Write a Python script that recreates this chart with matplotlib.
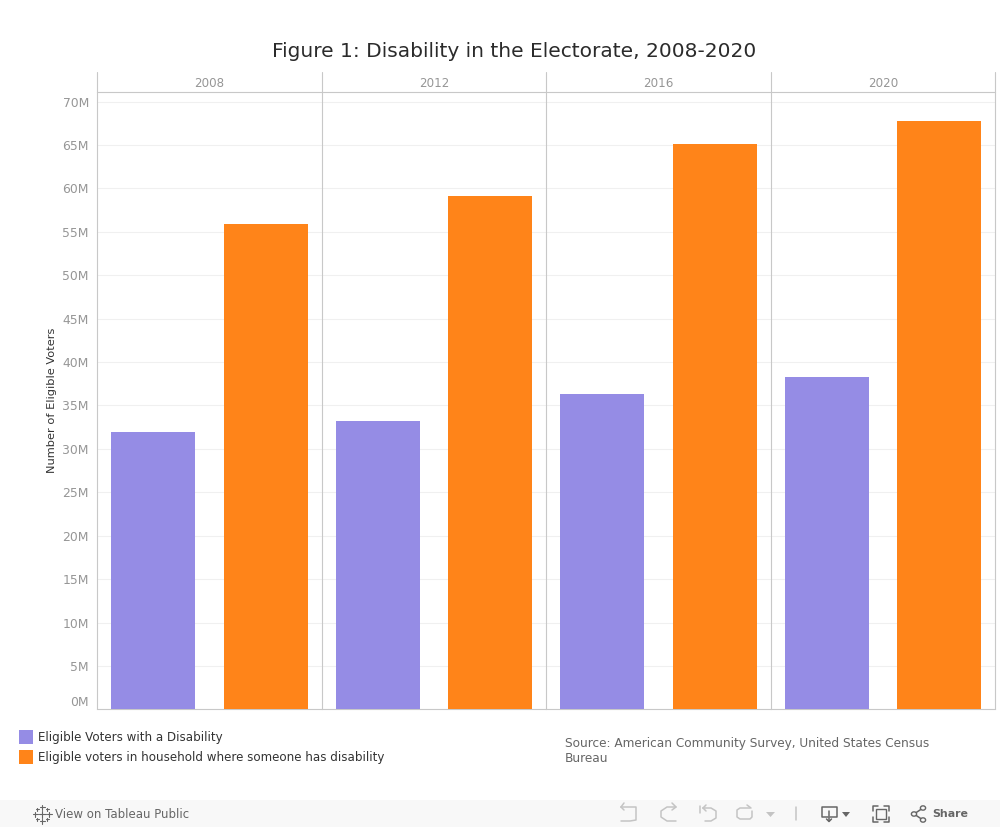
import matplotlib
matplotlib.use("Agg")
import matplotlib.pyplot as plt
from matplotlib.lines import Line2D
from matplotlib.patches import Rectangle, Circle, Polygon
from matplotlib.transforms import ScaledTranslation

W, H = 1000, 827
years = ["2008", "2012", "2016", "2020"]
disability = [31.9, 33.2, 36.3, 38.25]
household = [55.9, 59.1, 65.1, 67.75]
series_names = ["Eligible Voters with a Disability",
                "Eligible voters in household where someone has disability"]
yticks = list(range(0, 75, 5))
PURPLE, ORANGE = "#958ce5", "#ff8419"
LINE = "#c8c8c8"
GRID = "#f0f0f0"

plt.rcParams["font.family"] = "DejaVu Sans"
fig = plt.figure(figsize=(W / 100, H / 100), dpi=100, facecolor="white")


def box(x0, y0, x1, y1):
    return [x0 / W, 1 - y1 / H, (x1 - x0) / W, (y1 - y0) / H]


def px(x, y):
    return x / W, 1 - y / H


def fline(xs, ys, color="#b5b5b5", lw=1.1):
    fig.add_artist(Line2D([x / W for x in xs], [1 - y / H for y in ys],
                          color=color, lw=lw, transform=fig.transFigure,
                          solid_capstyle="round"))


# toolbar band (behind everything)
fig.add_artist(Rectangle(px(0, 827), 1, 27 / H, transform=fig.transFigure,
                         facecolor="#f8f8f8", edgecolor="none", zorder=-5))

left, panel_w = 97.3, 224.5
top, bottom = 92.3, 709.3
px_per_m = 8.68
ymax = (bottom - top) / px_per_m

for i, yr in enumerate(years):
    x0 = left + i * panel_w
    ax = fig.add_axes(box(x0, top, x0 + panel_w, bottom))
    ax.patch.set_alpha(0)
    ax.bar([0, 1], [disability[i], household[i]], width=0.747,
           color=[PURPLE, ORANGE], zorder=3)
    ax.set_xlim(-0.497, 1.498)
    ax.set_ylim(0, ymax)
    ax.set_xticks([])
    ax.set_yticks(yticks)
    ax.grid(axis="y", color=GRID, lw=0.8, zorder=0)
    ax.tick_params(axis="y", length=0)
    for k, s in ax.spines.items():
        s.set_color(LINE)
        s.set_linewidth(0.8)
        s.set_visible(k in ("top", "bottom"))
    if i == 0:
        ax.set_yticklabels([f"{v}M" for v in yticks], fontsize=8.9, color="#969696")
        ax.tick_params(axis="y", pad=6)
        # the lowest label sits above the baseline
        lab0 = ax.get_yticklabels()[0]
        lab0.set_transform(lab0.get_transform() +
                           ScaledTranslation(0, 8 / 100, fig.dpi_scale_trans))
        ax.set_ylabel("Number of Eligible Voters", fontsize=8.2, color="#333333", labelpad=4)
    else:
        ax.set_yticklabels([])
    # header strip with year label
    hx = fig.add_axes(box(x0, 72, x0 + panel_w, top))
    hx.set_xticks([]); hx.set_yticks([])
    hx.patch.set_alpha(0)
    for s in hx.spines.values():
        s.set_visible(False)
    hx.text(0.5, 0.42, yr, ha="center", va="center", fontsize=8.6,
            color="#969696", transform=hx.transAxes)

# panel separators run through header and plot
for i in range(len(years) + 1):
    x = left + i * panel_w
    fline([x, x], [72, bottom], LINE, 0.8)

fig.text(*px(514, 51.5), "Figure 1: Disability in the Electorate, 2008-2020",
         ha="center", va="center", fontsize=14.5, color="#2b2b2b")

# legend
for name, color, y in zip(series_names, [PURPLE, ORANGE], [737, 757]):
    fig.add_artist(Rectangle(px(19, y + 7), 14 / W, 14 / H, transform=fig.transFigure,
                             facecolor=color, edgecolor="none"))
    fig.text(*px(38, y), name, ha="left", va="center", fontsize=8.6, color="#333333")

fig.text(*px(565, 743), "Source: American Community Survey, United States Census",
         ha="left", va="center", fontsize=8.7, color="#666666")
fig.text(*px(565, 758), "Bureau", ha="left", va="center", fontsize=8.7, color="#666666")

# toolbar
fig.text(*px(55, 814), "View on Tableau Public", ha="left", va="center",
         fontsize=8.5, color="#666666")
fig.text(*px(932, 814), "Share", ha="left", va="center", fontsize=7.9,
         color="#666666", fontweight="bold")

# Tableau logo
for cx, cy, r in [(42, 814, 3.5), (42, 807, 2.5), (42, 821, 2.5), (35, 814, 2.5), (49, 814, 2.5),
                  (37, 809, 1.5), (47, 809, 1.5), (37, 819, 1.5), (47, 819, 1.5)]:
    fline([cx - r, cx + r], [cy, cy], "#666666", 0.8)
    fline([cx, cx], [cy - r, cy + r], "#666666", 0.8)

# undo / redo / revert / refresh
gc = "#c4c4c4"
fline([621, 627, 636, 636, 630, 621], [807, 807, 807, 820, 821, 821], gc)
fline([621, 624], [807, 803], gc); fline([621, 624], [807, 810], gc)
fline([675, 667, 661, 661, 667, 676], [807, 807, 811, 817, 821, 821], gc)
fline([676, 672], [807, 803], gc); fline([676, 672], [807, 810], gc)
fline([700, 700], [806, 813], gc)
fline([703, 711, 716, 716, 711, 705], [808, 808, 811, 818, 821, 821], gc)
fline([703, 706], [808, 805], gc); fline([703, 706], [808, 811], gc)
fline([750, 740, 737, 737, 740, 750, 752, 752], [808, 808, 810, 817, 819, 819, 817, 811], gc)
fline([747, 751], [805, 808], gc)
fig.add_artist(Polygon([px(766, 812), px(775, 812), px(770.5, 817)], transform=fig.transFigure,
                       facecolor=gc, edgecolor="none"))
fline([795.5, 795.5], [807, 820], gc)

# download icon
dc = "#666666"
fline([828, 822, 822, 837, 837, 830], [817, 817, 807, 807, 817, 817], dc)
fline([829, 829], [811, 821], dc); fline([826.5, 829, 831.5], [819, 821.5, 819], dc)
fig.add_artist(Polygon([px(842, 812), px(850, 812), px(846, 817)], transform=fig.transFigure,
                       facecolor=dc, edgecolor="none"))
# fullscreen icon
for xs, ys in [([873, 873, 878], [811, 806, 806]), ([884, 889, 889], [806, 806, 811]),
               ([873, 873, 878], [817, 822, 822]), ([884, 889, 889], [822, 822, 817])]:
    fline(xs, ys, dc)
fig.add_artist(Rectangle(px(876, 819), 10 / W, 10 / H, transform=fig.transFigure,
                         facecolor="none", edgecolor=dc, lw=1))
# share icon
for (x, y) in [(914, 814), (923, 808), (923, 820)]:
    fig.add_artist(Circle(px(x, y), 2.6 / W, transform=fig.transFigure,
                          facecolor="#f8f8f8", edgecolor=dc, lw=1, zorder=4))
fline([914, 923], [814, 808], dc); fline([914, 923], [814, 820], dc)

fig.savefig("out.png", dpi=100, facecolor="white")
